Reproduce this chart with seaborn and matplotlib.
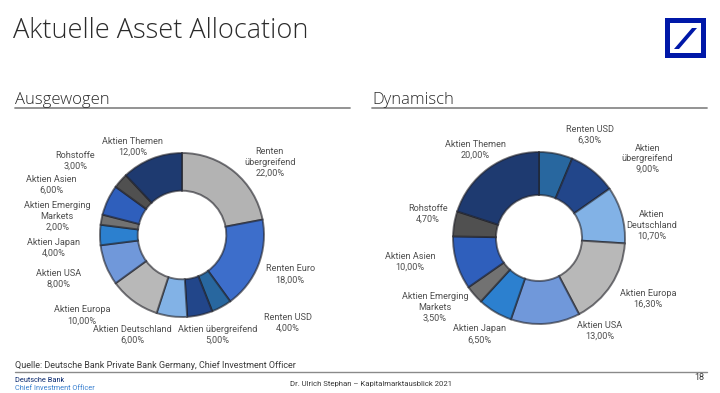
import matplotlib
matplotlib.use("Agg")
import matplotlib.pyplot as plt
import seaborn as sns
from matplotlib.patches import Rectangle, Polygon
from matplotlib.lines import Line2D

sns.set_theme(style="white")
plt.rcParams['font.family'] = ['Roboto', 'DejaVu Sans']

# ---------------- data ----------------
left_names = ["Renten\nübergreifend", "Renten Euro", "Renten USD", "Aktien übergreifend",
              "Aktien Deutschland", "Aktien Europa", "Aktien USA", "Aktien Japan",
              "Aktien Emerging\nMarkets", "Aktien Asien", "Rohstoffe", "Aktien Themen"]
left_values = [22.0, 18.0, 4.0, 5.0, 6.0, 10.0, 8.0, 4.0, 2.0, 6.0, 3.0, 12.0]

right_names = ["Renten USD", "Aktien\nübergreifend", "Aktien\nDeutschland", "Aktien Europa",
               "Aktien USA", "Aktien Japan", "Aktien Emerging\nMarkets", "Aktien Asien",
               "Rohstoffe", "Aktien Themen"]
right_values = [6.3, 9.0, 10.7, 16.3, 13.0, 6.5, 3.5, 10.0, 4.7, 20.0]

palette = {
    "Renten übergreifend": "#b3b3b3",
    "Renten Euro": "#3d6ecb",
    "Renten USD": "#28679f",
    "Aktien übergreifend": "#22468a",
    "Aktien Deutschland": "#82b2e6",
    "Aktien Europa": "#b8b8b8",
    "Aktien USA": "#7098da",
    "Aktien Japan": "#2c80cf",
    "Aktien Emerging Markets": "#727272",
    "Aktien Asien": "#2f5fbc",
    "Rohstoffe": "#505050",
    "Aktien Themen": "#1e3a70",
}

# label layout (in units of the pie radius, relative to centre)
left_label_pos = [(1.07, 0.89), (1.32, -0.48), (1.29, -1.07), (0.43, -1.22),
                  (-0.60, -1.22), (-1.22, -0.98), (-1.51, -0.54), (-1.57, -0.16),
                  (-1.52, 0.23), (-1.59, 0.61), (-1.30, 0.91), (-0.60, 1.07)]
right_label_pos = [(0.59, 1.20), (1.26, 0.92), (1.31, 0.15), (1.27, -0.71),
                   (0.71, -1.08), (-0.69, -1.12), (-1.21, -0.81), (-1.50, -0.28),
                   (-1.29, 0.28), (-0.74, 1.03)]

W, H = 720, 393
fig = plt.figure(figsize=(W / 100, H / 100), dpi=100)
fig.patch.set_facecolor("white")


def fx(px):
    return px / W


def fy(py):
    return 1 - py / H


def donut(cx, cy, R, names, values, label_pos, width):
    aw, ah = 340, 240
    ax = fig.add_axes([fx(cx - aw / 2), fy(cy + ah / 2), aw / W, ah / H])
    cols = [palette[n.replace("\n", " ")] for n in names]
    ax.pie(values, colors=cols, startangle=90, counterclock=False, radius=1,
           wedgeprops=dict(width=width, edgecolor=(0.12, 0.12, 0.15, 0.6), linewidth=1.4))
    ax.set_xlim(-aw / 2 / R, aw / 2 / R)
    ax.set_ylim(-ah / 2 / R, ah / 2 / R)
    ax.set_aspect("auto")
    ax.axis("off")
    for n, v, (lx, ly) in zip(names, values, label_pos):
        txt = f"{n}\n{v:.2f}%".replace(".", ",")
        ax.text(lx, ly, txt, ha="center", va="center", fontsize=6.6,
                color="#4f4f4f", linespacing=1.25)
    return ax


donut(182, 235, 82, left_names, left_values, left_label_pos, 0.46)
donut(539, 238, 86, right_names, right_values, right_label_pos, 0.50)

# ---------------- titles ----------------
title_font = ["Open Sans", "DejaVu Sans"]
fig.text(fx(13), fy(38), "Aktuelle Asset Allocation", fontsize=19.5, color="#2b2b2b",
         family=title_font, fontweight="light", va="baseline", ha="left")
fig.text(fx(15), fy(104), "Ausgewogen", fontsize=12, color="#2b2b2b",
         family=title_font, fontweight="light", va="baseline", ha="left")
fig.text(fx(372), fy(104), "Dynamisch", fontsize=12, color="#2b2b2b",
         family=title_font, fontweight="light", va="baseline", ha="left")
fig.add_artist(Line2D([fx(15), fx(350)], [fy(108), fy(108)], color="#8a8a8a", lw=1.3))
fig.add_artist(Line2D([fx(372), fx(707)], [fy(108), fy(108)], color="#8a8a8a", lw=1.3))

# ---------------- logo ----------------
blue = "#0018a8"
fig.add_artist(Rectangle((fx(665), fy(58)), fx(706) - fx(665), fy(18) - fy(58),
                         facecolor=blue, edgecolor="none", transform=fig.transFigure))
fig.add_artist(Rectangle((fx(670), fy(53)), fx(701) - fx(670), fy(23) - fy(53),
                         facecolor="white", edgecolor="none", transform=fig.transFigure))
fig.add_artist(Polygon([(fx(674), fy(49)), (fx(679), fy(49)), (fx(697), fy(28)), (fx(692), fy(28))],
                       closed=True, facecolor=blue, edgecolor="none", transform=fig.transFigure))

# ---------------- footer ----------------
fig.text(fx(15), fy(366), "Quelle: Deutsche Bank Private Bank Germany, Chief Investment Officer",
         fontsize=6.5, color="#3a3a3a", va="center", ha="left")
fig.add_artist(Line2D([fx(15), fx(707)], [fy(371.5), fy(371.5)], color="#8a8a8a", lw=1.0))
fig.text(fx(15), fy(381), "Deutsche Bank", fontsize=5.3, color="#0b2a6f", va="center", ha="left")
fig.text(fx(15), fy(389), "Chief Investment Officer", fontsize=5.3, color="#3a80d0",
         va="center", ha="left")
fig.text(fx(371), fy(384), "Dr. Ulrich Stephan – Kapitalmarktausblick 2021", fontsize=5.6,
         color="#3a3a3a", va="center", ha="center")
fig.text(fx(704), fy(378), "18", fontsize=6.5, color="#3a3a3a", va="center", ha="right")

fig.savefig("out.png", dpi=100, facecolor="white")
